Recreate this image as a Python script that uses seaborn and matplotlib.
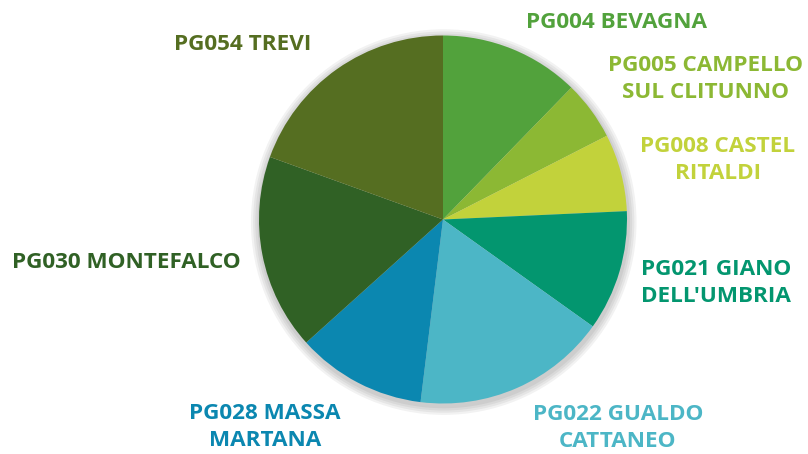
import matplotlib
matplotlib.use("Agg")
import matplotlib.pyplot as plt
import seaborn as sns
from matplotlib.patches import Circle

# ---- data ----
categories = ["PG004 BEVAGNA", "PG005 CAMPELLO\nSUL CLITUNNO", "PG008 CASTEL\nRITALDI",
              "PG021 GIANO\nDELL'UMBRIA", "PG022 GUALDO\nCATTANEO", "PG028 MASSA\nMARTANA",
              "PG030 MONTEFALCO", "PG054 TREVI"]
values = [12.3, 5.2, 6.8, 10.6, 17.1, 11.4, 17.2, 19.5]
colors = ["#52A23C", "#8CB834", "#C2D23B", "#03966F", "#4CB6C6", "#0B87B0", "#306125", "#556E21"]

# label layout (pixel centers) and alignment
label_px = [(526, 22, "left"), (706, 79, "center"), (718, 160, "center"),
            (716, 283, "center"), (618, 428, "center"), (265, 427, "center"),
            (126, 263, "center"), (243, 44, "center")]

sns.set_theme(style="white")
plt.rcParams['font.family'] = ['Open Sans', 'DejaVu Sans']

W, H = 808, 454
cx, cy, R = 443, 219.5, 184.0
fig = plt.figure(figsize=(W / 100, H / 100), dpi=100)
ax = fig.add_axes([0, 0, 1, 1])

palette = sns.color_palette(colors)

# soft shadow
for i, a in enumerate([0.05, 0.05, 0.05, 0.05]):
    ax.add_patch(Circle((0.004, -0.014), 1.0 + 0.012 * (4 - i), color="black", alpha=a, lw=0, zorder=0))

ax.pie(values, colors=palette, startangle=90, counterclock=False, radius=1.0,
       wedgeprops=dict(linewidth=0, edgecolor="none"))

ax.set_xlim(-cx / R, (W - cx) / R)
ax.set_ylim(-(H - cy) / R, cy / R)
ax.set_aspect("auto")
ax.axis("off")

for lab, (px, py, ha), col in zip(categories, label_px, palette):
    ax.text((px - cx) / R, (cy - py) / R, lab, ha=ha, va="center", color=col,
            fontsize=16.2, fontweight="bold", linespacing=1.35, multialignment="center")

fig.savefig("out.png", dpi=100, facecolor="white")
